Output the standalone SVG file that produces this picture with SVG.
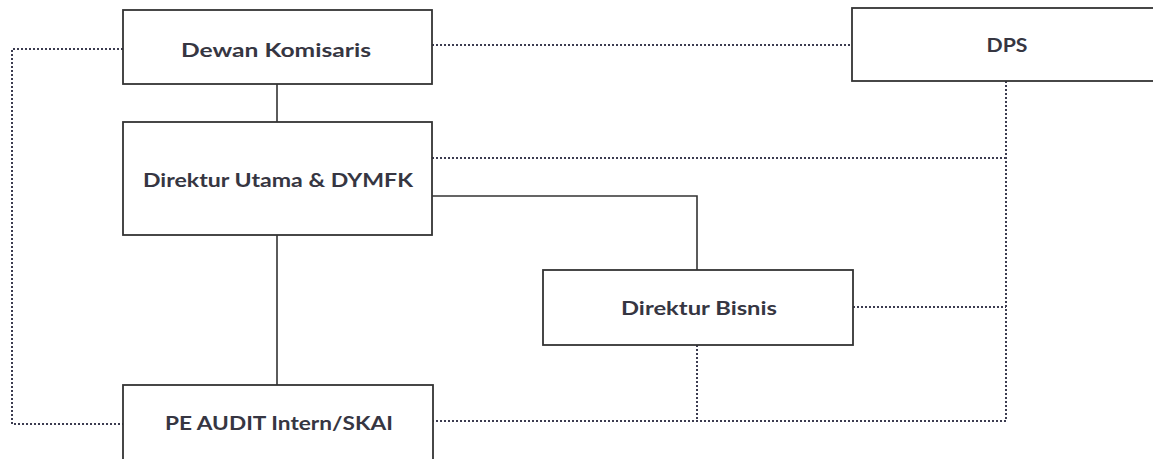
<svg xmlns="http://www.w3.org/2000/svg" width="1153" height="459" viewBox="0 0 1153 459">
<style>
.box{fill:#fff;stroke:#333;stroke-width:1.8}
.lbl{font-family:Lato,"Open Sans","Liberation Sans",sans-serif;font-weight:700;font-size:18.5px;fill:#363642;text-anchor:middle;dominant-baseline:central}
.solid{fill:none;stroke:#333;stroke-width:1.6}
.dot{fill:none;stroke:#3c3c50;stroke-width:2;stroke-dasharray:2 2}
</style>
<rect width="1153" height="459" fill="#fff"/>
<g id="connectors">
<path class="solid" d="M277 84V122"/>
<path class="solid" d="M277 235V385"/>
<path class="solid" d="M432 196H697V270"/>
<path class="dot" d="M123 49H12V424H123"/>
<path class="dot" d="M432 45H852"/>
<path class="dot" d="M1006 81V421H433"/>
<path class="dot" d="M432 158H1006"/>
<path class="dot" d="M853 307H1006"/>
<path class="dot" d="M697 345V421"/>
</g>
<g id="dewan-komisaris">
<rect class="box" x="123" y="10" width="309" height="74"/>
<text class="lbl" x="276" y="50" textLength="190" lengthAdjust="spacingAndGlyphs">Dewan Komisaris</text>
</g>
<g id="dps">
<rect class="box" x="852" y="8" width="310" height="73"/>
<text class="lbl" x="1007" y="45" textLength="41" lengthAdjust="spacingAndGlyphs">DPS</text>
</g>
<g id="direktur-utama">
<rect class="box" x="123" y="122" width="309" height="113"/>
<text class="lbl" x="278" y="180" textLength="270" lengthAdjust="spacingAndGlyphs">Direktur Utama &amp; DYMFK</text>
</g>
<g id="direktur-bisnis">
<rect class="box" x="543" y="270" width="310" height="75"/>
<text class="lbl" x="699" y="308" textLength="156" lengthAdjust="spacingAndGlyphs">Direktur Bisnis</text>
</g>
<g id="pe-audit">
<rect class="box" x="123" y="385" width="310" height="90"/>
<text class="lbl" x="279" y="423" textLength="228" lengthAdjust="spacingAndGlyphs">PE AUDIT Intern/SKAI</text>
</g>
</svg>
